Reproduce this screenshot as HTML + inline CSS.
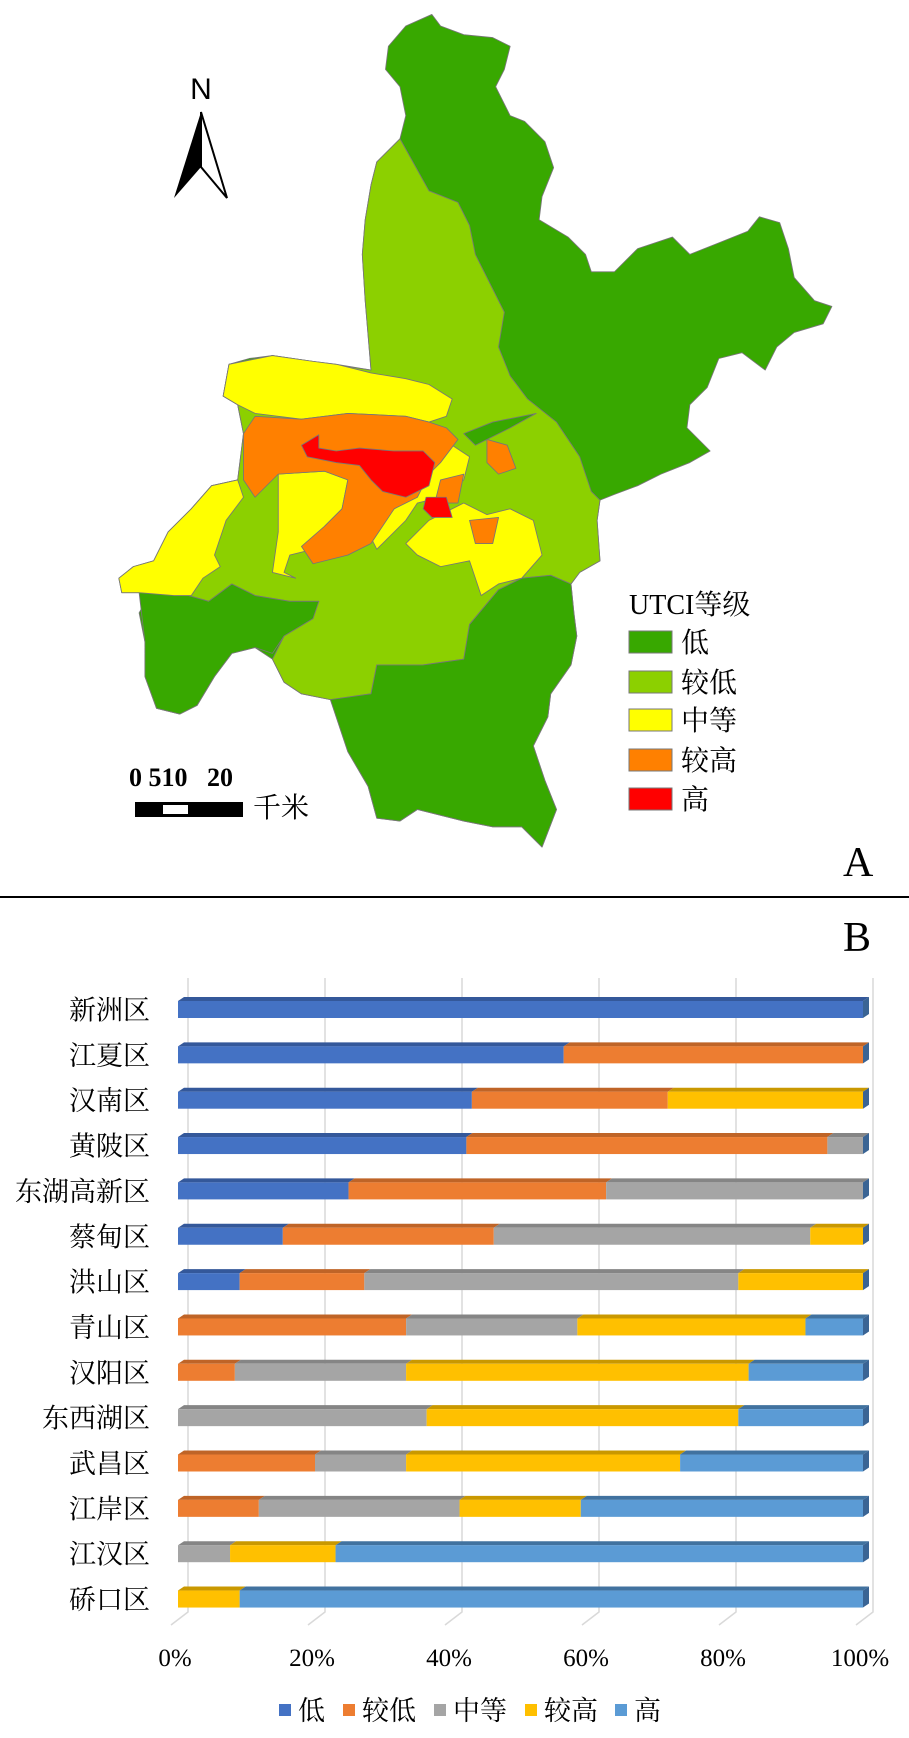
<!DOCTYPE html>
<html><head><meta charset="utf-8"><style>
html,body{margin:0;padding:0;background:#fff;}
svg{display:block;}
.cjk{font-family:"Liberation Serif","Noto Serif CJK SC",serif;}
</style></head><body>
<svg id="root" width="909" height="1738" viewBox="0 0 909 1738" xmlns="http://www.w3.org/2000/svg">
<g id="map" transform="scale(0.5797,0.5782)" stroke="#777" stroke-width="1.5" stroke-linejoin="round">
<polygon fill="#38A800" points="745,25 760,45 800,60 850,65 880,80 870,120 855,150 880,200 905,210 940,245 955,290 935,340 930,380 980,410 1010,440 1020,470 1060,470 1100,430 1160,410 1190,440 1240,420 1290,400 1310,375 1345,385 1360,430 1370,480 1405,520 1435,530 1420,560 1370,575 1340,600 1320,640 1280,610 1240,620 1220,670 1190,700 1185,740 1225,780 1190,800 1140,820 1100,840 1060,855 1035,865 1030,900 1035,970 1000,990 985,1010 990,1060 995,1100 985,1150 950,1200 945,1240 920,1290 940,1350 960,1400 935,1465 900,1430 850,1430 800,1420 720,1400 690,1420 650,1415 635,1360 600,1300 570,1210 520,1200 490,1180 470,1140 440,1120 400,1130 370,1170 340,1220 310,1235 270,1225 250,1170 250,1110 240,1060 260,1025 240,1025 210,1025 205,1000 230,980 265,970 290,920 330,880 365,840 410,830 420,750 410,700 385,685 395,630 430,620 470,615 540,625 580,630 640,640 635,580 630,520 625,440 630,380 640,320 650,280 690,240 700,200 690,150 665,120 670,80 700,45"/>
<polygon fill="#8CD000" points="690,240 740,330 790,350 810,390 820,440 850,500 870,540 860,600 880,650 910,690 960,730 1000,790 1020,850 1035,865 1030,900 1035,970 1000,990 985,1010 950,995 900,1000 860,1020 810,1080 800,1140 730,1150 650,1150 640,1200 570,1210 520,1200 490,1180 470,1140 500,1080 550,1040 500,1040 440,1030 400,1010 360,1040 290,1020 330,880 365,840 410,830 420,750 410,700 385,685 395,630 470,615 640,640 635,580 630,520 625,440 630,380 640,320 650,280"/>
<polygon fill="#38A800" points="240,1025 290,1020 360,1040 400,1010 440,1030 500,1040 550,1040 540,1070 490,1100 470,1130 440,1120 400,1130 370,1170 340,1220 310,1235 270,1225 250,1170 250,1110"/>
<polygon fill="#38A800" points="640,1200 650,1150 730,1150 800,1140 810,1080 860,1020 900,1000 950,995 985,1010 990,1060 995,1100 985,1150 950,1200 945,1240 920,1290 940,1350 960,1400 935,1465 900,1430 850,1430 800,1420 720,1400 690,1420 650,1415 635,1360 600,1300 570,1210"/>
<g fill="#FFFF00">
<polygon points="395,630 470,615 540,625 580,630 640,645 700,655 740,665 780,690 770,720 740,730 700,720 600,715 520,725 440,715 410,700 385,685"/>
<polygon points="205,1000 230,980 265,970 290,920 330,880 365,840 410,830 420,860 390,900 370,960 380,980 350,1000 330,1030 300,1030 240,1025 210,1025"/>
<polygon points="480,820 560,815 600,830 590,880 560,910 540,950 500,960 490,990 510,1000 470,990 480,920"/>
<polygon points="700,940 740,900 800,870 840,890 880,880 920,900 935,960 900,1000 860,1010 830,1030 810,970 760,980 720,960"/>
<polygon points="740,780 780,770 810,790 800,830 760,860 720,870 700,900 650,950 640,930 680,880 720,840"/>
</g>
<g fill="#FF8000">
<polygon points="420,750 440,720 520,725 600,715 700,720 740,730 770,740 790,760 760,800 740,820 720,860 680,880 640,940 600,960 540,975 520,945 560,910 590,880 600,830 560,815 480,820 440,860 420,830"/>
<polygon points="840,760 875,770 890,810 860,820 840,800"/>
<polygon points="760,830 800,820 790,870 750,870"/>
<polygon points="810,900 860,895 850,940 820,940"/>
</g>
<g fill="#FF0000">
<polygon points="520,770 550,752 550,775 580,780 620,775 680,780 730,780 750,800 740,840 720,850 700,860 660,850 640,830 620,805 580,800 530,790"/>
<polygon points="735,860 770,860 780,895 745,895 730,880"/>
</g>
<polygon fill="#38A800" points="800,750 850,730 925,715 880,740 820,770"/>
</g>

<g>
<text x="201" y="99" font-family="Liberation Sans, sans-serif" font-size="30" text-anchor="middle">N</text>
<polygon points="201,112 174,198 201,167" fill="#000"/>
<polygon points="201,112 227,198 201,167" fill="#fff" stroke="#000" stroke-width="2"/>
</g>

<g>
<text x="129" y="786" font-family="Liberation Serif, serif" font-weight="bold" font-size="26">0 510&#160;&#160;&#160;20</text>
<rect x="135" y="802" width="108" height="15" fill="#000"/>
<rect x="163" y="805" width="25" height="9" fill="#fff"/>
<text x="253" y="817" class="cjk" font-size="28">千米</text>
</g>

<g class="cjk" font-size="28">
<text x="629" y="614">UTCI等级</text>
<rect x="629" y="631" width="43" height="22" fill="#38A800" stroke="#777"/><text x="681" y="652">低</text>
<rect x="629" y="671" width="43" height="22" fill="#8CD000" stroke="#777"/><text x="681" y="692">较低</text>
<rect x="629" y="709" width="43" height="22" fill="#FFFF00" stroke="#777"/><text x="681" y="730">中等</text>
<rect x="629" y="749" width="43" height="22" fill="#FF8000" stroke="#777"/><text x="681" y="770">较高</text>
<rect x="629" y="788" width="43" height="22" fill="#FF0000" stroke="#777"/><text x="681" y="809">高</text>
</g>
<text x="843" y="876" font-family="Liberation Serif, serif" font-size="42">A</text>
<rect x="0" y="896" width="909" height="2" fill="#000"/>
<text x="843" y="951" font-family="Liberation Serif, serif" font-size="42">B</text>
<g id="chart"></g>
</svg>
<script>
const categories = ["新洲区","江夏区","汉南区","黄陂区","东湖高新区","蔡甸区","洪山区","青山区","汉阳区","东西湖区","武昌区","江岸区","江汉区","硚口区"];
const seriesNames = ["低","较低","中等","较高","高"];
const sLow     = [100,56.3,42.9,42.1,24.9,15.3,9.0,0,0,0,0,0,0,0];
const sLower   = [0,43.7,28.6,52.7,37.6,30.8,18.2,33.3,8.3,0,20,11.8,0,0];
const sMedium  = [0,0,0,5.2,37.5,46.2,54.6,25,25,36.3,13.3,29.3,7.6,0];
const sHigher  = [0,0,28.5,0,0,7.7,18.2,33.3,50,45.5,40,17.7,15.4,9.0];
const sHigh    = [0,0,0,0,0,0,0,8.4,16.7,18.2,26.7,41.2,77,91];
const tickLabels = ["0%","20%","40%","60%","80%","100%"];
const tickValues = [0,20,40,60,80,100];

const colors = ["#4472C4","#ED7D31","#A5A5A5","#FFC000","#5B9BD5"];
const topColors = ["#34589A","#BF6427","#858585","#C99800","#41729F"];
const NS = "http://www.w3.org/2000/svg";
const g = document.getElementById("chart");
const X0 = 178, XW = 685, Y0 = 1009.5, DY = 45.35, BH = 17, DX = 6, DZ = 4;
const xs = v => X0 + v / 100 * XW;
const ys = i => Y0 + i * DY;
function mk(tag, attrs){ const e = document.createElementNS(NS, tag); for (const k in attrs) e.setAttribute(k, attrs[k]); g.appendChild(e); return e; }

tickValues.forEach((t, k) => {
  const x = xs(t) + 10;
  const ln = mk("polyline", {points: `${x},978 ${x},1612 ${x-17},1625`, fill: "none", stroke: "#d9d9d9", "stroke-width": 1.5});
  
  
  const tx = mk("text", {x: xs(t) - 3, y: 1666, "text-anchor": "middle", "font-family": "Liberation Serif, serif", "font-size": 25});
  tx.textContent = tickLabels[k];
  
  
});

const series = [sLow, sLower, sMedium, sHigher, sHigh];
categories.forEach((c, i) => {
  const cy = ys(i), yt = cy - BH / 2;
  const lbl = mk("text", {x: 150, y: cy + 10, "text-anchor": "end", class: "cjk", "font-size": 27});
  lbl.textContent = c;
  
  
  let acc = 0;
  series.forEach((s, j) => {
    const v = s[i];
    if (v <= 0) return;
    const x1 = xs(acc), x2 = xs(acc + v);
    const top = mk("polygon", {points: `${x1},${yt} ${x2},${yt} ${x2+DX},${yt-DZ} ${x1+DX},${yt-DZ}`, fill: topColors[j]});
    
    
    const r = mk("rect", {x: x1, y: yt, width: x2 - x1, height: BH, fill: colors[j]});
    
    
    acc += v;
  });
  const xe = xs(acc);
  const side = mk("polygon", {points: `${xe},${yt} ${xe+DX},${yt-DZ} ${xe+DX},${yt+BH-DZ} ${xe},${yt+BH}`, fill: "#3A6494"});
  
  
});

const legX = [279, 343, 434, 525, 615];
seriesNames.forEach((n, j) => {
  const sq = mk("rect", {x: legX[j], y: 1704, width: 12, height: 12, fill: colors[j]});
  
  
  const t = mk("text", {x: legX[j] + 19, y: 1720, class: "cjk", "font-size": 27});
  t.textContent = n;
  
  
});
</script>
</body></html>
